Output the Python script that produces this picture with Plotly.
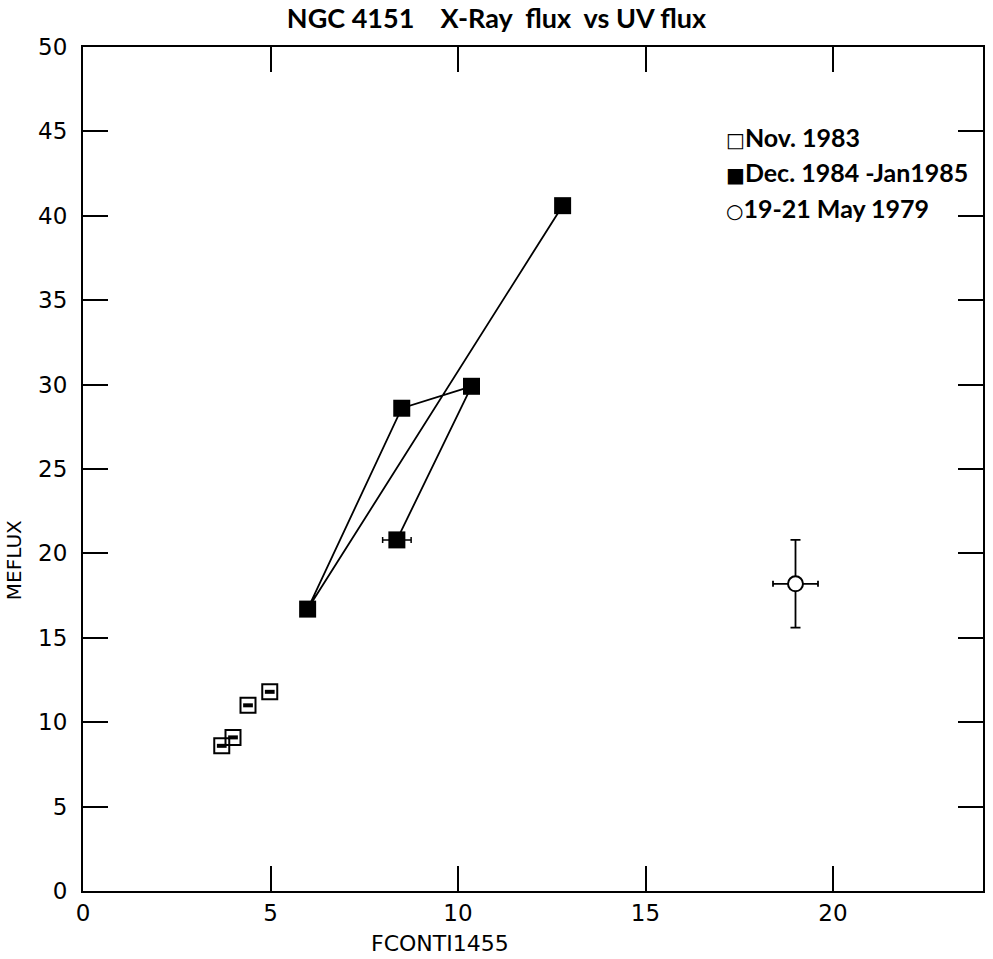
import plotly.graph_objects as go

# ---- data ----
nov_x = [3.70, 4.00, 4.40, 4.98]
nov_y = [8.6, 9.1, 11.0, 11.8]
nov_xerr = [0.13, 0.13, 0.13, 0.13]

dec_x = [8.37, 10.36, 8.50, 5.99, 12.79]
dec_y = [20.8, 29.9, 28.6, 16.7, 40.6]
dec_xerr = [0.38, 0.0, 0.0, 0.0, 0.0]

may_x = [19.0]
may_y = [18.2]
may_xerr = [0.6]
may_yerr = [2.6]

legend_symbols = ["\u25a1", "\u25a0", "\u25cb"]
legend_labels = ["Nov. 1983", "Dec. 1984 -Jan1985", "19-21 May 1979"]
legend_rows_y = [0.893, 0.852, 0.809]

x_ticks = [0, 5, 10, 15, 20]
y_ticks = [0, 5, 10, 15, 20, 25, 30, 35, 40, 45, 50]

title_text = "NGC 4151\u00a0\u00a0\u00a0\u00a0X-Ray\u00a0 flux\u00a0 vs UV flux"
x_title = "FCONTI1455"
y_title = "MEFLUX"

fig = go.Figure()

fig.add_trace(go.Scatter(
    x=nov_x, y=nov_y, mode="markers", name=legend_labels[0],
    marker=dict(symbol="square-open", size=15, color="black", line=dict(width=2, color="black")),
    error_x=dict(type="data", array=nov_xerr, color="black", thickness=4, width=0),
    showlegend=False,
))

fig.add_trace(go.Scatter(
    x=dec_x, y=dec_y, mode="lines+markers", name=legend_labels[1],
    line=dict(color="black", width=1.8),
    marker=dict(symbol="square", size=17, color="black"),
    error_x=dict(type="data", array=dec_xerr, color="black", thickness=1.5, width=3),
    showlegend=False,
))

fig.add_trace(go.Scatter(
    x=may_x, y=may_y, mode="markers", name=legend_labels[2],
    marker=dict(symbol="circle", size=15, color="white", line=dict(width=2, color="black")),
    error_x=dict(type="data", array=may_xerr, color="black", thickness=1.8, width=3),
    error_y=dict(type="data", array=may_yerr, color="black", thickness=1.8, width=5),
    showlegend=False,
))

axis_common = dict(
    showline=True, linewidth=2, linecolor="black", mirror="ticks",
    ticks="inside", ticklen=25, tickwidth=1.5, tickcolor="black",
    showgrid=False, zeroline=False,
    tickfont=dict(family="DejaVu Sans", size=23, color="black"),
)

fig.update_xaxes(range=[0, 24], tickvals=x_ticks, ticktext=[str(v) for v in x_ticks], **axis_common)
fig.update_yaxes(range=[0, 50], tickvals=y_ticks, ticktext=[str(v) for v in y_ticks],
                 ticklabelstandoff=9, **axis_common)

annotations = []
for sym, lab, yy in zip(legend_symbols, legend_labels, legend_rows_y):
    annotations.append(dict(
        xref="paper", yref="paper", x=0.712, y=yy, xanchor="left", yanchor="middle",
        text='<span style="font-family:DejaVu Sans;font-size:20px;font-weight:normal">' + sym
             + '</span>' + lab,
        showarrow=False,
        font=dict(family="Lato", size=25, color="black", weight="bold"),
    ))
annotations.append(dict(
    xref="paper", yref="paper", x=(441 - 83) / 902, y=(891 - 944) / 844,
    xanchor="center", yanchor="middle", text=x_title, showarrow=False,
    font=dict(family="DejaVu Sans", size=22, color="black"),
))
annotations.append(dict(
    xref="paper", yref="paper", x=(14 - 83) / 902, y=(891 - 560) / 844,
    xanchor="center", yanchor="middle", text=y_title, textangle=-90, showarrow=False,
    font=dict(family="DejaVu Sans", size=20, color="black"),
))

fig.update_layout(
    width=993, height=959,
    margin=dict(l=83, r=8, t=47, b=68),
    paper_bgcolor="white", plot_bgcolor="white",
    title=dict(text=title_text, x=0.5, xref="container", xanchor="center",
               y=1 - 19 / 959, yref="container", yanchor="middle",
               font=dict(family="Lato", size=27, color="black", weight="bold")),
    annotations=annotations,
)

fig.write_html("out.html")
